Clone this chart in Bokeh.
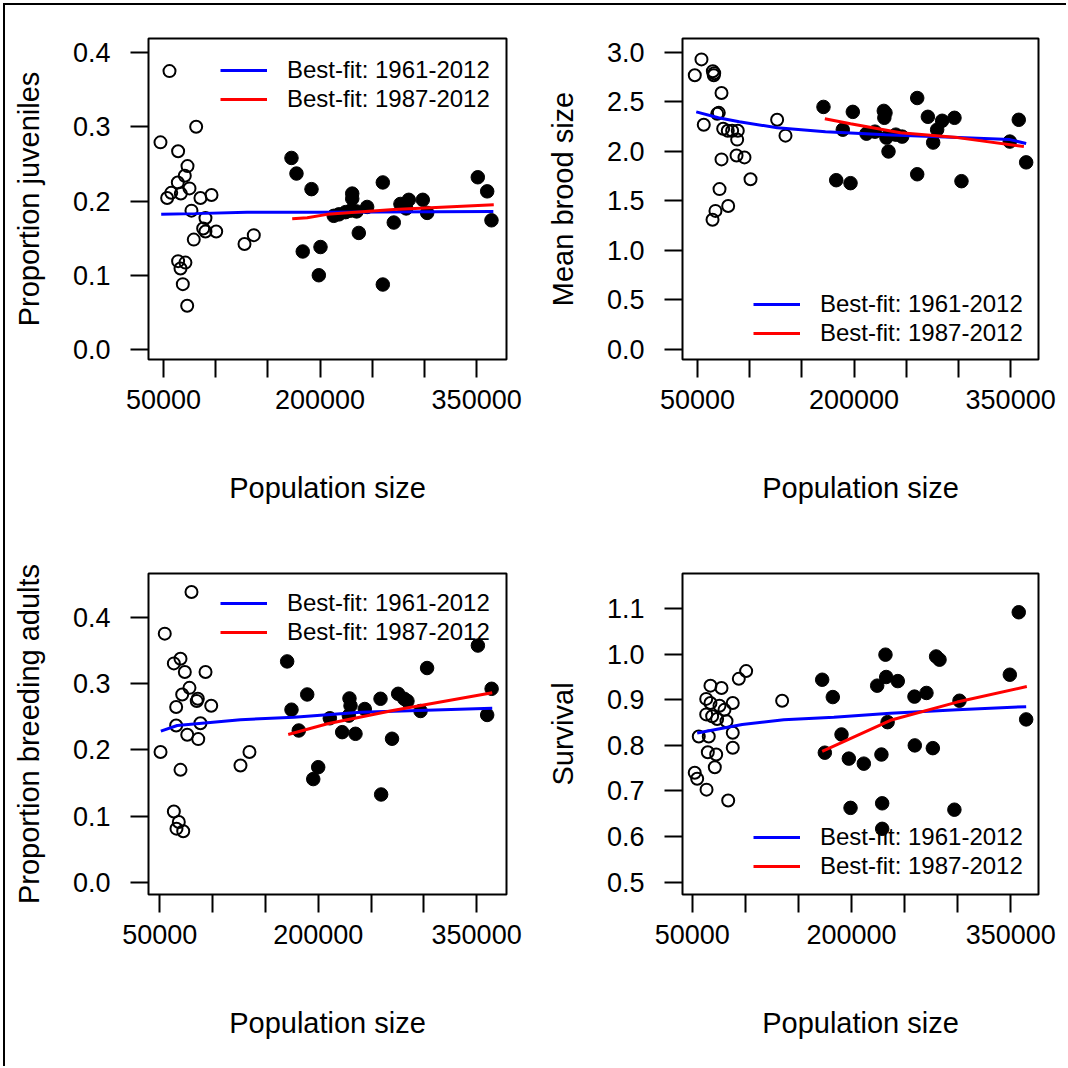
from bokeh.plotting import figure
from bokeh.layouts import row, column
from bokeh.models import Range1d, FixedTicker, PrintfTickFormatter, Legend, LegendItem
from bokeh.embed import file_html
from bokeh.resources import INLINE

# ---------------- data ----------------
x_ticks = [50000, 100000, 150000, 200000, 250000, 300000, 350000]
x_tick_labels = {50000: "50000", 100000: "", 150000: "", 200000: "200000",
                 250000: "", 300000: "", 350000: "350000"}
legend_labels = ["Best-fit: 1961-2012", "Best-fit: 1987-2012"]
x_label = "Population size"

# Panel 1: Proportion juveniles
juv_open_x = [55750, 81300, 47100, 64000, 73000, 70400, 63700, 74900, 66600, 57400, 53500, 85400, 96000,
              76800, 90200, 88000, 90200, 100500, 79000, 127600, 136500, 64000, 71000, 66300, 68500, 72700]
juv_open_y = [0.375, 0.300, 0.279, 0.267, 0.247, 0.234, 0.225, 0.217, 0.210, 0.211, 0.204, 0.204, 0.208,
              0.187, 0.177, 0.163, 0.159, 0.159, 0.148, 0.142, 0.154, 0.119, 0.117, 0.109, 0.088, 0.059]
juv_fill_x = [172600, 177400, 191800, 183400, 200400, 198800, 213100, 224400, 230800, 230800, 229100, 237100, 245100,
              260100, 260100, 270600, 277000, 285000, 298400, 302600, 282500, 351100, 360100, 364200, 235000, 218000]
juv_fill_y = [0.258, 0.237, 0.216, 0.132, 0.138, 0.100, 0.180, 0.185, 0.210, 0.203, 0.187, 0.157, 0.192,
              0.225, 0.0875, 0.171, 0.196, 0.2016, 0.2016, 0.184, 0.190, 0.232, 0.213, 0.174, 0.186, 0.182]
juv_blue_x = [47800, 80000, 130000, 200000, 366000]
juv_blue_y = [0.182, 0.183, 0.185, 0.185, 0.186]
juv_red_x = [173300, 187700, 206800, 270600, 366400]
juv_red_y = [0.176, 0.1775, 0.182, 0.1886, 0.195]
juv_y_ticks = [0.0, 0.1, 0.2, 0.3, 0.4]

# Panel 2: Mean brood size
brood_open_x = [53800, 47400, 64700, 65600, 66000, 73000, 70400, 68900, 56000, 74600, 79000, 83200,
                88600, 88000, 126300, 134300, 87400, 95000, 73000, 100800, 71100, 79400, 67200, 64400]
brood_open_y = [2.93, 2.77, 2.81, 2.77, 2.79, 2.59, 2.39, 2.38, 2.27, 2.23, 2.21, 2.21,
                2.21, 2.12, 2.32, 2.16, 1.96, 1.94, 1.92, 1.72, 1.62, 1.45, 1.40, 1.31]
brood_fill_x = [170700, 182900, 196600, 189200, 198800, 211900, 228500, 230100, 229000, 231000, 233000, 246100,
                260500, 260500, 270700, 275800, 279600, 284400, 296200, 302900, 349200, 357800, 364900, 220000, 240000]
brood_fill_y = [2.45, 1.71, 1.68, 2.22, 2.40, 2.18, 2.41, 2.39, 2.34, 2.14, 2.00, 2.15,
                2.54, 1.77, 2.35, 2.09, 2.22, 2.31, 2.34, 1.70, 2.10, 2.32, 1.89, 2.20, 2.17]
brood_blue_x = [48800, 70000, 90000, 126300, 172600, 230000, 300000, 349200, 364900]
brood_blue_y = [2.40, 2.34, 2.30, 2.24, 2.20, 2.17, 2.14, 2.12, 2.08]
brood_red_x = [172000, 196600, 244500, 299000, 362700]
brood_red_y = [2.33, 2.28, 2.19, 2.14, 2.05]
brood_y_ticks = [0.0, 0.5, 1.0, 1.5, 2.0, 2.5, 3.0]

# Panel 3: Proportion breeding adults
breed_open_x = [80000, 54700, 63300, 69600, 73700, 93300, 78100, 71200, 86000, 85000, 98700, 65500,
                88500, 65500, 76000, 86400, 50700, 134900, 126400, 69600, 63300, 68000, 65800, 72200]
breed_open_y = [0.439, 0.376, 0.331, 0.338, 0.318, 0.318, 0.294, 0.284, 0.2775, 0.274, 0.267, 0.265,
                0.2405, 0.237, 0.223, 0.2165, 0.197, 0.197, 0.1766, 0.170, 0.107, 0.091, 0.081, 0.077]
breed_fill_x = [170600, 174700, 181600, 189600, 200000, 195300, 211000, 222700, 235300, 229600, 230600, 244100,
                259000, 259600, 269900, 275700, 281400, 284500, 296900, 303100, 351200, 364200, 360000, 229000]
breed_fill_y = [0.334, 0.261, 0.2295, 0.284, 0.174, 0.156, 0.248, 0.227, 0.2245, 0.278, 0.267, 0.262,
                0.2775, 0.1327, 0.217, 0.285, 0.2775, 0.274, 0.259, 0.324, 0.358, 0.2926, 0.253, 0.252]
breed_blue_x = [51000, 66500, 126400, 177000, 240000, 364800]
breed_blue_y = [0.2285, 0.237, 0.2457, 0.2497, 0.257, 0.263]
breed_red_x = [171600, 208800, 271900, 364800]
breed_red_y = [0.2235, 0.2396, 0.26, 0.2865]
breed_y_ticks = [0.0, 0.1, 0.2, 0.3, 0.4]

# Panel 4: Survival
surv_open_x = [100800, 93900, 67200, 77600, 63200, 67200, 75700, 80400, 88200, 134700, 63200, 68800, 73500,
               82300, 56200, 65600, 88200, 88200, 64700, 72600, 71300, 52400, 54700, 63500, 83900]
surv_open_y = [0.963, 0.946, 0.931, 0.926, 0.902, 0.893, 0.887, 0.878, 0.893, 0.898, 0.868, 0.864, 0.858,
               0.853, 0.8195, 0.8195, 0.8276, 0.795, 0.785, 0.780, 0.752, 0.740, 0.727, 0.703, 0.679]
surv_fill_x = [172400, 182400, 190600, 174900, 197500, 211600, 228200, 232000, 224200, 232700, 243600, 234000, 199100,
               228900, 228900, 259300, 270600, 259600, 276600, 279700, 282900, 301700, 296900, 349100, 357500, 364500]
surv_fill_y = [0.944, 0.906, 0.824, 0.784, 0.771, 0.760, 0.780, 0.999, 0.931, 0.950, 0.941, 0.851, 0.663,
               0.673, 0.617, 0.907, 0.915, 0.800, 0.794, 0.995, 0.988, 0.898, 0.659, 0.955, 1.092, 0.857]
surv_blue_x = [54700, 97100, 136300, 183400, 236700, 299500, 364500]
surv_blue_y = [0.827, 0.846, 0.856, 0.862, 0.8706, 0.878, 0.885]
surv_red_x = [172400, 236700, 299500, 365100]
surv_red_y = [0.787, 0.855, 0.895, 0.929]
surv_y_ticks = [0.5, 0.6, 0.7, 0.8, 0.9, 1.0, 1.1]

FONT = "Liberation Sans"
TICK_FS = "27px"
LAB_FS = "29px"
LEG_FS = "24px"


def make_panel(ylabel, ox, oy, fx, fy, bx, by, rx, ry, yticks, xr, yr,
               width, height, borders, legend_loc):
    bl, bt, br, bb = borders
    p = figure(width=width, height=height,
               x_range=Range1d(*xr), y_range=Range1d(*yr),
               output_backend="svg", toolbar_location=None,
               min_border_left=bl, min_border_top=bt,
               min_border_right=br, min_border_bottom=bb)
    p.xgrid.grid_line_color = None
    p.ygrid.grid_line_color = None
    p.outline_line_color = "black"
    p.outline_line_width = 2
    p.background_fill_color = "white"
    p.border_fill_color = "white"

    for ax in (p.xaxis[0], p.yaxis[0]):
        ax.axis_line_color = None
        ax.major_tick_in = 0
        ax.major_tick_out = 18
        ax.major_tick_line_width = 2
        ax.major_tick_line_color = "black"
        ax.minor_tick_line_color = None
        ax.major_label_text_font = FONT
        ax.major_label_text_font_size = TICK_FS
        ax.major_label_text_color = "black"
        ax.axis_label_text_font = FONT
        ax.axis_label_text_font_size = LAB_FS
        ax.axis_label_text_font_style = "normal"
        ax.axis_label_text_color = "black"

    p.xaxis.ticker = FixedTicker(ticks=x_ticks)
    p.xaxis.major_label_overrides = x_tick_labels
    p.xaxis.major_label_standoff = 12
    p.xaxis.axis_label = x_label
    p.xaxis.axis_label_standoff = 60

    p.yaxis.ticker = FixedTicker(ticks=yticks)
    p.yaxis.formatter = PrintfTickFormatter(format="%.1f")
    p.yaxis.major_label_orientation = "horizontal"
    p.yaxis.major_label_standoff = 20
    p.yaxis.axis_label = ylabel
    p.yaxis.axis_label_standoff = 25

    p.scatter(ox, oy, marker="circle", size=12, fill_color=None,
              line_color="black", line_width=2)
    p.scatter(fx, fy, marker="circle", size=13.5, fill_color="black",
              line_color="black", line_width=1)
    lb = p.line(bx, by, line_color="blue", line_width=3)
    lr = p.line(rx, ry, line_color="red", line_width=3)

    leg = Legend(items=[LegendItem(label=legend_labels[0], renderers=[lb]),
                        LegendItem(label=legend_labels[1], renderers=[lr])],
                 location=legend_loc, border_line_color=None,
                 background_fill_alpha=0, padding=0, margin=0, spacing=1,
                 glyph_width=47, glyph_height=20, label_height=20,
                 label_standoff=20, label_text_font=FONT,
                 label_text_font_size=LEG_FS, label_text_color="black")
    p.add_layout(leg, "center")
    return p


p1 = make_panel("Proportion juveniles", juv_open_x, juv_open_y, juv_fill_x, juv_fill_y,
                juv_blue_x, juv_blue_y, juv_red_x, juv_red_y, juv_y_ticks,
                (35630, 378600), (-0.0135, 0.4189), 529, 530, (143, 33, 28, 176), (72, 246))
p2 = make_panel("Mean brood size", brood_open_x, brood_open_y, brood_fill_x, brood_fill_y,
                brood_blue_x, brood_blue_y, brood_red_x, brood_red_y, brood_y_ticks,
                (35630, 376700), (-0.101, 3.141), 532, 530, (148, 33, 28, 176), (71, 12))
p3 = make_panel("Proportion breeding adults", breed_open_x, breed_open_y, breed_fill_x, breed_fill_y,
                breed_blue_x, breed_blue_y, breed_red_x, breed_red_y, breed_y_ticks,
                (39300, 378300), (-0.0186, 0.467), 529, 531, (143, 38, 28, 172), (72, 248))
p4 = make_panel("Survival", surv_open_x, surv_open_y, surv_fill_x, surv_fill_y,
                surv_blue_x, surv_blue_y, surv_red_x, surv_red_y, surv_y_ticks,
                (40870, 376100), (0.473, 1.177), 532, 531, (148, 38, 28, 172), (71, 14))

layout = column(row(p1, p2), row(p3, p4),
                styles={"border-top": "2px solid black", "border-left": "2px solid black",
                        "margin-top": "3px", "margin-left": "3px"})

open("out.html", "w").write(file_html(layout, INLINE))
